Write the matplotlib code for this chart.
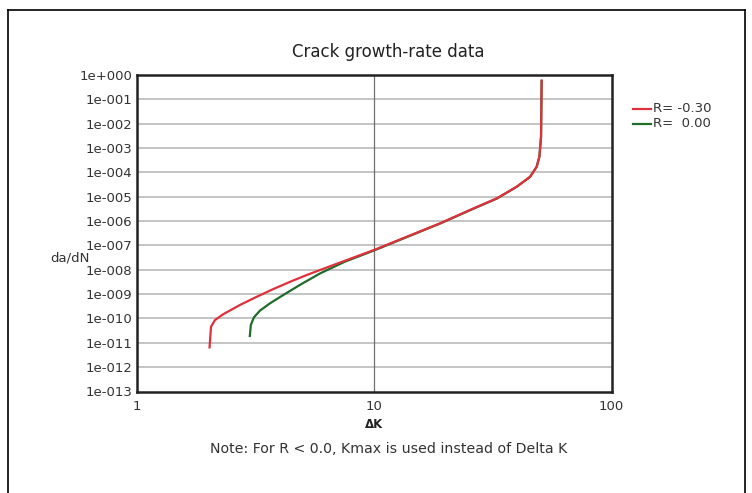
import matplotlib
matplotlib.use("Agg")
import matplotlib.pyplot as plt
from matplotlib.lines import Line2D

plt.rcParams['font.family'] = ['DejaVu Sans']

# data
dk_red = [2.03, 2.06, 2.14, 2.32, 2.73, 3.21, 3.76, 4.43, 5.21, 5.93, 7.5, 10.0,
          18.97, 26.2, 32.9, 39.9, 45.4, 48.4, 49.7, 50.5, 50.8]
dadn_red = [6.5e-12, 4.6e-11, 8.6e-11, 1.5e-10, 3.6e-10, 7.8e-10, 1.6e-9, 3.2e-9,
            6.1e-9, 9.8e-9, 2.3e-8, 6.5e-8, 8.1e-7, 3.3e-6, 8.6e-6, 2.6e-5, 6.6e-5,
            1.7e-4, 4.4e-4, 2.9e-3, 0.58]
dk_green = [3.0, 3.03, 3.12, 3.31, 3.65, 4.15, 4.88, 5.93, 7.5, 10.0,
            18.97, 26.2, 32.9, 39.9, 45.4, 48.4, 49.7, 50.5, 50.8]
dadn_green = [1.9e-11, 5.4e-11, 1.1e-10, 2.1e-10, 4.2e-10, 9.2e-10, 2.4e-9, 7.1e-9,
              2.1e-8, 6.2e-8, 7.9e-7, 3.2e-6, 8.4e-6, 2.55e-5, 6.5e-5,
              1.7e-4, 4.4e-4, 2.9e-3, 0.58]

series_labels = ['R= -0.30', 'R=  0.00']
series_colors = ['#e0303c', '#1e6b2a']

yticks = [10.0 ** -i for i in range(0, 14)]
ytick_labels = ['1e+000'] + ['1e-%03d' % i for i in range(1, 14)]
xticks = [1, 10, 100]
xtick_labels = ['1', '10', '100']

W, H = 752, 493
fig = plt.figure(figsize=(W / 100, H / 100), dpi=100)

# outer frame (open at the bottom)
fig.add_artist(Line2D([8 / W, 8 / W], [0, 1 - 10 / H], color='black', lw=1.2, transform=fig.transFigure))
fig.add_artist(Line2D([8 / W, 745 / W], [1 - 10 / H, 1 - 10 / H], color='black', lw=1.2, transform=fig.transFigure))
fig.add_artist(Line2D([745 / W, 745 / W], [0, 1 - 10 / H], color='black', lw=1.2, transform=fig.transFigure))

ax = fig.add_axes([136.5 / W, 1 - 391.5 / H, 475 / W, 316.5 / H])
ax.set_xscale('log')
ax.set_yscale('log')
ax.set_xlim(1, 100)
ax.set_ylim(1e-13, 1)

for y in yticks[1:-1]:
    ax.axhline(y, color='#c4c4c4', lw=1.4, zorder=1)
ax.axvline(10, color='#707070', lw=0.9, zorder=1)

ax.plot(dk_green, dadn_green, color=series_colors[1], lw=1.6, zorder=3)
ax.plot(dk_red, dadn_red, color=series_colors[0], lw=1.6, zorder=4)

ax.set_yticks(yticks)
ax.set_yticklabels(ytick_labels)
ax.set_xticks(xticks)
ax.set_xticklabels(xtick_labels)
ax.minorticks_off()
ax.tick_params(length=0, labelsize=9.5, colors='#333333')
ax.tick_params(axis='y', pad=3)
ax.tick_params(axis='x', pad=6)
for s in ax.spines.values():
    s.set_linewidth(1.8)
    s.set_color('#222222')

fig.text(388 / W, 1 - 52 / H, 'Crack growth-rate data', ha='center', va='center',
         fontsize=12, color='#222222')
fig.text(50 / W, 1 - 258 / H, 'da/dN', ha='left', va='center', fontsize=9.5, color='#333333')
fig.text(374 / W, 1 - 424 / H, 'ΔK', ha='center', va='center', fontsize=8.5,
         fontweight='bold', color='#222222')
fig.text(389 / W, 1 - 449 / H, 'Note: For R < 0.0, Kmax is used instead of Delta K',
         ha='center', va='center', fontsize=10.2, color='#333333')

# legend
for i, (lab, col) in enumerate(zip(series_labels, series_colors)):
    yy = 1 - (109 + 15 * i) / H
    fig.add_artist(Line2D([633 / W, 651 / W], [yy, yy], color=col, lw=1.6, transform=fig.transFigure))
    fig.text(653 / W, yy, lab, ha='left', va='center', fontsize=9.5, color='#333333')

fig.savefig('out.png', dpi=100)
